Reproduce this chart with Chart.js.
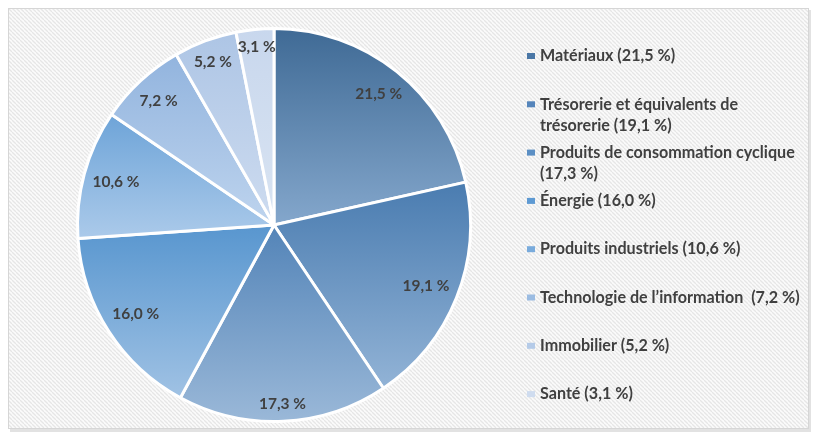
<!DOCTYPE html>
<html><head><meta charset="utf-8">
<script src="https://cdn.jsdelivr.net/npm/chart.js@4.4.1/dist/chart.umd.min.js"></script>
<style>html,body{margin:0;padding:0;background:#fff;overflow:hidden}canvas{display:block}</style>
</head><body>
<canvas id="c" width="822" height="436"></canvas>
<script>
// ---- data ----
const categories = ['Matériaux', 'Trésorerie et équivalents de trésorerie', 'Produits de consommation cyclique', 'Énergie', 'Produits industriels', 'Technologie de l’information ', 'Immobilier', 'Santé'];
const values = [21.5, 19.1, 17.3, 16.0, 10.6, 7.2, 5.2, 3.1];

// ---- styles ----
const topColors = ['#3f6a95', '#4a7cb0', '#5384b8', '#5896cf', '#6ea4d8', '#92b4de', '#adc5e5', '#c8d7ed'];
const bottomColors = ['#84a7cc', '#92b3d6', '#9ab8d8', '#a0c2e4', '#abcaea', '#bed4ee', '#cedcf0', '#d9e4f2'];
const markerColors = ['#4a77a6', '#5585bb', '#5b8fc4', '#5e9ad3', '#79abdc', '#9bbce2', '#b5cbe8', '#cfdcef'];
const FONT = 'Lato';
const TEXT = '#404040';

const fmt = v => v.toFixed(1).replace('.', ',');

function fitSize(ctx, text, target) {
  ctx.font = 'bold 100px ' + FONT;
  return 100 * target / ctx.measureText(text).width;
}

function sliceGradient(context) {
  const chart = context.chart, i = context.dataIndex;
  const area = chart.chartArea;
  if (!area || i === undefined) return topColors[i || 0];
  const total = values.reduce((a, b) => a + b, 0);
  let cum = 0;
  for (let k = 0; k < i; k++) cum += values[k];
  const a0 = -Math.PI / 2 + 2 * Math.PI * cum / total;
  const a1 = a0 + 2 * Math.PI * values[i] / total;
  const cx = (area.left + area.right) / 2, cy = (area.top + area.bottom) / 2;
  const r = (Math.min(area.width, area.height) - 3) / 2;
  const ys = [cy, cy + r * Math.sin(a0), cy + r * Math.sin(a1)];
  const inArc = a => a >= a0 && a <= a1;
  if (inArc(-Math.PI / 2) || inArc(1.5 * Math.PI)) ys.push(cy - r);
  if (inArc(Math.PI / 2)) ys.push(cy + r);
  const minY = Math.min(...ys), maxY = Math.max(...ys);
  const g = chart.ctx.createLinearGradient(0, minY, 0, maxY);
  g.addColorStop(0, topColors[i]);
  g.addColorStop(1, bottomColors[i]);
  return g;
}

function makePattern(ctx) {
  const s = 4;
  const tile = document.createElement('canvas');
  tile.width = tile.height = s;
  const t = tile.getContext('2d');
  t.fillStyle = '#fbfbfb'; t.fillRect(0, 0, s, s);
  t.strokeStyle = '#e6e6e6'; t.lineWidth = 1.3;
  for (const o of [-s, 0, s]) { t.beginPath(); t.moveTo(o, 0); t.lineTo(o + s, s); t.stroke(); }
  return ctx.createPattern(tile, 'repeat');
}

const bgPlugin = {
  id: 'bg',
  beforeDraw(chart) {
    const c = chart.ctx;
    c.save();
    c.fillStyle = '#ffffff'; c.fillRect(0, 0, chart.width, chart.height);
    c.fillStyle = '#e2e2e2'; c.fillRect(10, 10, 801, 422);
    c.fillStyle = makePattern(c); c.fillRect(8, 8, 801, 421);
    c.strokeStyle = '#d6d6d6'; c.lineWidth = 1; c.strokeRect(8.5, 8.5, 800, 420);
    c.restore();
  }
};

const labelPlugin = {
  id: 'sliceLabels',
  afterDatasetsDraw(chart) {
    const c = chart.ctx;
    const size = fitSize(c, '21,5 %', 47);
    c.save();
    c.font = 'bold ' + size + 'px ' + FONT;
    c.fillStyle = TEXT; c.textAlign = 'center'; c.textBaseline = 'middle';
    chart.getDatasetMeta(0).data.forEach((arc, i) => {
      const p = arc.getProps(['x', 'y', 'startAngle', 'endAngle', 'outerRadius'], true);
      const mid = (p.startAngle + p.endAngle) / 2;
      const ux = Math.cos(mid), uy = Math.sin(mid);
      const txt = fmt(values[i]) + ' %';
      const hw = c.measureText(txt).width / 2, hh = 8;
      const d = p.outerRadius - 8 - hw * Math.abs(ux) - hh * Math.abs(uy);
      c.fillText(txt, p.x + d * ux, p.y + d * uy);
    });
    c.restore();
  }
};

const legendPlugin = {
  id: 'sideLegend',
  afterDraw(chart) {
    const c = chart.ctx;
    const size = fitSize(c, 'Produits de consommation cyclique', 255);
    c.save();
    c.font = 'bold ' + size + 'px ' + FONT;
    c.textAlign = 'left'; c.textBaseline = 'middle';
    const maxW = 266, lineH = 21;
    categories.forEach((cat, i) => {
      const text = cat + ' (' + fmt(values[i]) + ' %)';
      const words = text.split(' ');
      const lines = []; let cur = '';
      words.forEach(w => {
        const test = cur === '' ? w : cur + ' ' + w;
        if (cur !== '' && c.measureText(test).width > maxW) { lines.push(cur); cur = w; }
        else cur = test;
      });
      lines.push(cur);
      const y0 = 56 + i * 48.3;
      c.fillStyle = markerColors[i];
      c.fillRect(527, y0 - 3, 8, 6);
      c.fillStyle = TEXT;
      lines.forEach((ln, k) => c.fillText(ln, 540, y0 + k * lineH));
    });
    c.restore();
  }
};

function draw() {
  new Chart(document.getElementById('c'), {
    type: 'pie',
    data: {
      labels: categories,
      datasets: [{
        data: values,
        backgroundColor: sliceGradient,
        borderColor: '#ffffff',
        borderWidth: 3
      }]
    },
    options: {
      responsive: false,
      animation: false,
      devicePixelRatio: 1,
      events: [],
      layout: { padding: { left: 76, right: 350, top: 27, bottom: 13 } },
      plugins: { legend: { display: false }, tooltip: { enabled: false } }
    },
    plugins: [bgPlugin, labelPlugin, legendPlugin]
  });
}
(document.fonts && document.fonts.load ? document.fonts.load('bold 15px ' + FONT) : Promise.resolve()).then(draw, draw);
</script>
</body></html>
